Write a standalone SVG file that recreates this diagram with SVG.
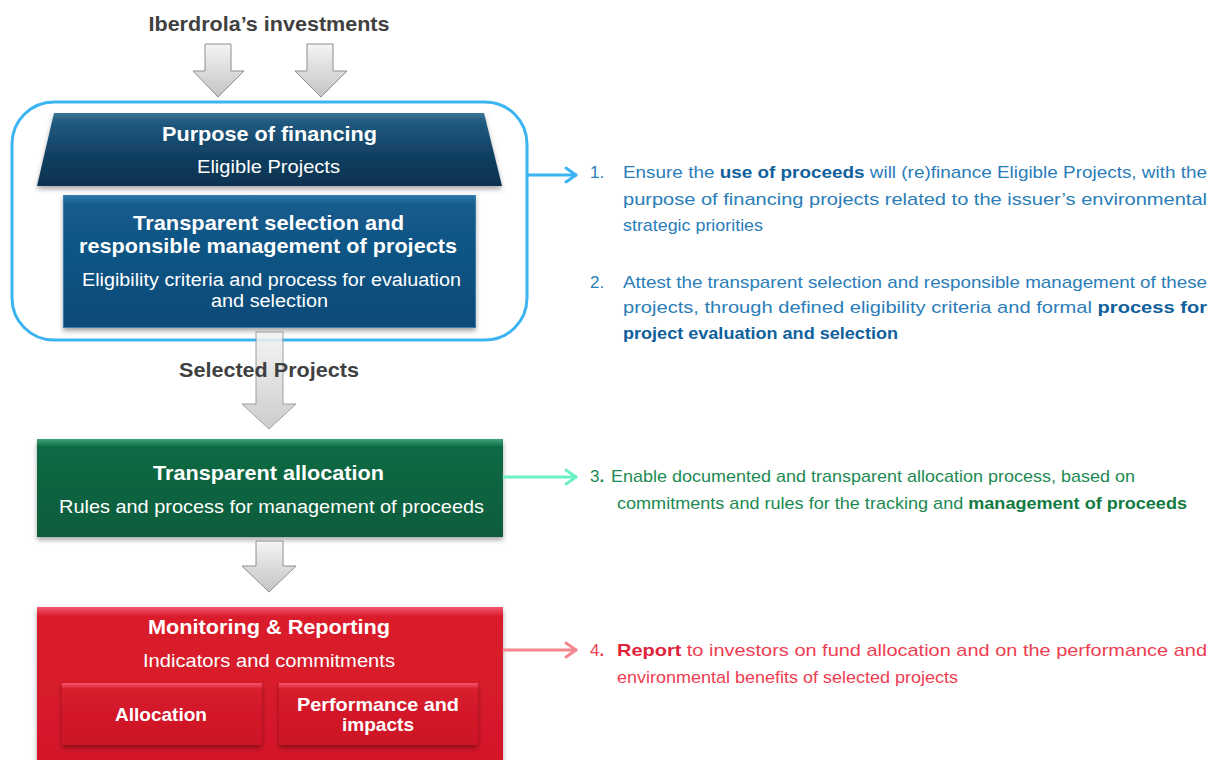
<svg xmlns="http://www.w3.org/2000/svg" width="1209" height="760" viewBox="0 0 1209 760">
<defs>
<style>
.hd{font-family:"Liberation Sans",Arial,sans-serif;font-weight:bold;fill:#fff;text-anchor:middle}
.sb{font-family:"Liberation Sans",Arial,sans-serif;fill:#fff;text-anchor:middle}
.gr{font-family:"Liberation Sans",Arial,sans-serif;font-weight:bold;fill:#404040;text-anchor:middle}
.rt{font-family:"Liberation Sans",Arial,sans-serif;font-size:17px}
.b{font-weight:bold}
.blue{fill:#2a7db8}.blueb{fill:#0f609c}
.green{fill:#1c8a52}.greenb{fill:#107a40}
.red{fill:#ee3d52}.redb{fill:#e0223b}
.garrow{fill:url(#gArrow);stroke:#8e8e8e;stroke-width:1}
.conn{fill:none;stroke-width:3;stroke-linecap:round;stroke-linejoin:round}
</style>
<linearGradient id="gArrow" x1="0" y1="0" x2="0" y2="1"><stop offset="0" stop-color="#f4f4f4"/><stop offset="1" stop-color="#c4c4c4"/></linearGradient>
<linearGradient id="gNavy" x1="0" y1="0" x2="0" y2="1"><stop offset="0" stop-color="#3b7597"/><stop offset="0.12" stop-color="#215a80"/><stop offset="0.6" stop-color="#0f3e60"/><stop offset="1" stop-color="#0a3250"/></linearGradient>
<linearGradient id="gBlue" x1="0" y1="0" x2="0" y2="1"><stop offset="0" stop-color="#2f78a8"/><stop offset="0.08" stop-color="#135b8c"/><stop offset="1" stop-color="#0b4a78"/></linearGradient>
<linearGradient id="gGreen" x1="0" y1="0" x2="0" y2="1"><stop offset="0" stop-color="#3fa47a"/><stop offset="0.08" stop-color="#0d6a45"/><stop offset="1" stop-color="#075c3b"/></linearGradient>
<linearGradient id="gRed" x1="0" y1="0" x2="0" y2="1"><stop offset="0" stop-color="#f4566c"/><stop offset="0.06" stop-color="#da1c2c"/><stop offset="1" stop-color="#d41828"/></linearGradient>
<linearGradient id="gRedSub" x1="0" y1="0" x2="0" y2="1"><stop offset="0" stop-color="#f4566c"/><stop offset="0.1" stop-color="#d81b2b"/><stop offset="1" stop-color="#cc1626"/></linearGradient>
<filter id="sh" x="-5%" y="-5%" width="110%" height="125%"><feDropShadow dx="0" dy="3" stdDeviation="2.5" flood-color="#000" flood-opacity="0.35"/></filter>
</defs>
<rect width="1209" height="760" fill="#fff"/>

<g id="title">
<text class="gr" x="269" y="31" font-size="21" textLength="241" lengthAdjust="spacingAndGlyphs">Iberdrola’s investments</text>
</g>

<g id="inputArrows">
<path class="garrow" d="M205,44 H231 V71 H244 L218,97 L193,71 H205 Z"/>
<path class="garrow" d="M307,44 H333 V71 H347 L321,97 L295,71 H307 Z"/>
</g>

<g id="selectionGroup">
<rect x="12" y="102" width="515" height="238" rx="42" ry="42" fill="none" stroke="#3cb4f2" stroke-width="3"/>
</g>

<g id="purpose">
<path d="M54,113 H484 L502,186 H37 Z" fill="url(#gNavy)" filter="url(#sh)"/>
<text class="hd" x="269.5" y="141" font-size="21" textLength="215" lengthAdjust="spacingAndGlyphs">Purpose of financing</text>
<text class="sb" x="268.5" y="173" font-size="19" textLength="143" lengthAdjust="spacingAndGlyphs">Eligible Projects</text>
</g>

<g id="selection">
<rect x="63" y="195" width="413" height="133" fill="url(#gBlue)" filter="url(#sh)"/>
<rect x="63.5" y="195.5" width="412" height="132" fill="none" stroke="#3a7fae" stroke-width="1"/>
<text class="hd" x="268.5" y="230" font-size="21" textLength="271" lengthAdjust="spacingAndGlyphs">Transparent selection and</text>
<text class="hd" x="268" y="253" font-size="21" textLength="378" lengthAdjust="spacingAndGlyphs">responsible management of projects</text>
<text class="sb" x="271.5" y="286" font-size="18" textLength="379" lengthAdjust="spacingAndGlyphs">Eligibility criteria and process for evaluation</text>
<text class="sb" x="269.5" y="307" font-size="18" textLength="117" lengthAdjust="spacingAndGlyphs">and selection</text>
</g>

<g id="selectedProjects">
<path class="garrow" d="M256,332 H283 V404 H296 L269,429 L242,404 H256 Z" opacity="0.85"/>
<text class="gr" x="269" y="377" font-size="21" textLength="180" lengthAdjust="spacingAndGlyphs">Selected Projects</text>
</g>

<g id="allocation">
<rect x="37" y="439" width="466" height="98" fill="url(#gGreen)" filter="url(#sh)"/>
<text class="hd" x="268.5" y="480" font-size="21" textLength="231" lengthAdjust="spacingAndGlyphs">Transparent allocation</text>
<text class="sb" x="271.5" y="513" font-size="19" textLength="425" lengthAdjust="spacingAndGlyphs">Rules and process for management of proceeds</text>
</g>

<g id="allocArrow">
<path class="garrow" d="M256,541 H283 V566 H296 L269,592 L242,566 H256 Z"/>
</g>

<g id="monitoring">
<rect x="37" y="607" width="466" height="160" fill="url(#gRed)" filter="url(#sh)"/>
<text class="hd" x="269" y="634" font-size="21" textLength="242" lengthAdjust="spacingAndGlyphs">Monitoring &amp; Reporting</text>
<text class="sb" x="269" y="667" font-size="19" textLength="252" lengthAdjust="spacingAndGlyphs">Indicators and commitments</text>
</g>

<g id="allocationSub">
<rect x="62" y="683" width="200" height="62" fill="url(#gRedSub)" filter="url(#sh)"/>
<text class="hd" x="161" y="721" font-size="19" textLength="92" lengthAdjust="spacingAndGlyphs">Allocation</text>
</g>

<g id="performanceSub">
<rect x="279" y="683" width="199" height="62" fill="url(#gRedSub)" filter="url(#sh)"/>
<text class="hd" x="378" y="711" font-size="19" textLength="162" lengthAdjust="spacingAndGlyphs">Performance and</text>
<text class="hd" x="378" y="731" font-size="19" textLength="72" lengthAdjust="spacingAndGlyphs">impacts</text>
</g>

<g id="connectors">
<g stroke="#3cb4f2" class="conn"><path d="M528,175 H576"/><path d="M566,168 L576,175 L566,182"/></g>
<g stroke="#6cf0c6" class="conn"><path d="M504,477 H576"/><path d="M566,470 L576,477 L566,484"/></g>
<g stroke="#f4878e" class="conn"><path d="M504,650 H576"/><path d="M566,643 L576,650 L566,657"/></g>
</g>

<g id="text1">
<text class="rt blue" x="590" y="178">1.</text>
<text class="rt blue" x="623" y="178" textLength="584" lengthAdjust="spacingAndGlyphs">Ensure the <tspan class="b blueb">use of proceeds</tspan> will (re)finance Eligible Projects, with the</text>
<text class="rt blue" x="623" y="205" textLength="584" lengthAdjust="spacingAndGlyphs">purpose of financing projects related to the issuer’s environmental</text>
<text class="rt blue" x="623" y="231" textLength="140" lengthAdjust="spacingAndGlyphs">strategic priorities</text>
</g>

<g id="text2">
<text class="rt blue" x="590" y="288">2.</text>
<text class="rt blue" x="623" y="288" textLength="584" lengthAdjust="spacingAndGlyphs">Attest the transparent selection and responsible management of these</text>
<text class="rt blue" x="623" y="313" textLength="584" lengthAdjust="spacingAndGlyphs">projects, through defined eligibility criteria and formal <tspan class="b blueb">process for</tspan></text>
<text class="rt b blueb" x="623" y="339" textLength="275" lengthAdjust="spacingAndGlyphs">project evaluation and selection</text>
</g>

<g id="text3">
<text class="rt green" x="590" y="482">3<tspan class="b">.</tspan></text>
<text class="rt green" x="611" y="482" textLength="524" lengthAdjust="spacingAndGlyphs">Enable documented and transparent allocation process, based on</text>
<text class="rt green" x="617" y="509" textLength="570" lengthAdjust="spacingAndGlyphs">commitments and rules for the tracking and <tspan class="b greenb">management of proceeds</tspan></text>
</g>

<g id="text4">
<text class="rt red" x="590" y="656">4<tspan class="b">.</tspan></text>
<text class="rt red" x="617" y="656" textLength="590" lengthAdjust="spacingAndGlyphs"><tspan class="b redb">Report</tspan> to investors on fund allocation and on the performance and</text>
<text class="rt red" x="617" y="683" textLength="341" lengthAdjust="spacingAndGlyphs">environmental  benefits of selected projects</text>
</g>
</svg>
